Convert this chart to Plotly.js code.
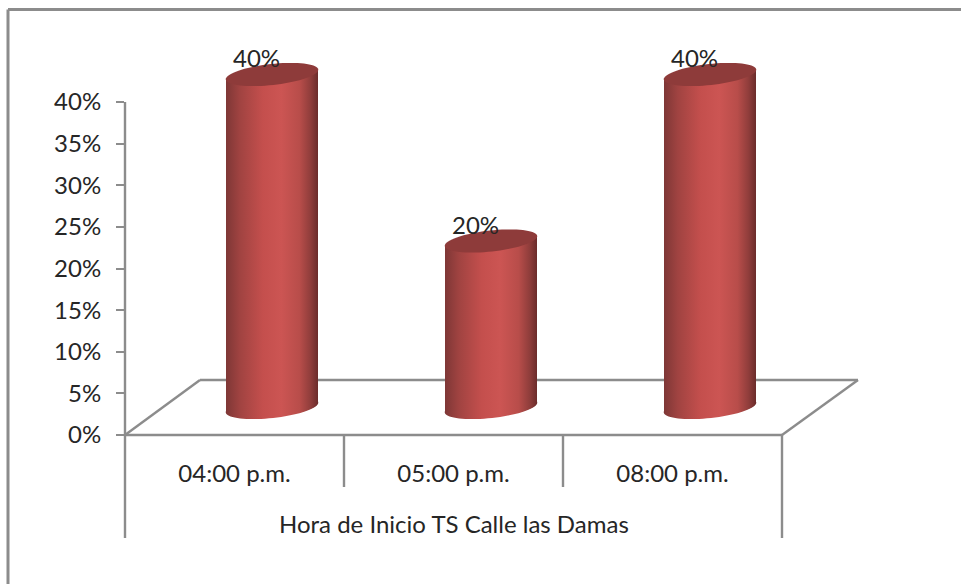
<!DOCTYPE html>
<html><head><meta charset="utf-8">
<script src="https://cdn.plot.ly/plotly-3.0.1.min.js"></script>
<style>html,body{margin:0;padding:0;background:#fff}#c{width:961px;height:584px}</style>
</head><body><div id="c"></div>
<script>
const categories = ["04:00 p.m.", "05:00 p.m.", "08:00 p.m."];
const shares = [0.40, 0.20, 0.40];
const yTicks = [0, 0.05, 0.10, 0.15, 0.20, 0.25, 0.30, 0.35, 0.40];
const axisTitle = "Hora de Inicio TS Calle las Damas";

const W = 961, H = 584;
const m = {l:125, r:90, t:40, b:149};
const pw = W-m.l-m.r, ph = H-m.t-m.b;
const pxPerCat = 219, pxPerVal = 832.5;
const shiftX = 37.5, shiftY = 27.5;
const grey = '#8c8c8c', FONT = 'Lato, "Open Sans", sans-serif', TXT = '#262626', FS = 24;
const px = (x)=> (x-m.l)/pw, py = (y)=> 1-(y-m.t)/ph;
const line = (x0,y0,x1,y1,w)=>({type:'line',xref:'paper',yref:'paper',layer:'below',
  x0:px(x0),y0:py(y0),x1:px(x1),y1:py(y1),line:{color:grey,width:w||2.4}});

const xr = [-0.5, -0.5+pw/pxPerCat], yr = [0, ph/pxPerVal];
const x2r = [xr[0]-shiftX/pxPerCat, xr[1]-shiftX/pxPerCat];
const y2r = [yr[0]-shiftY/pxPerVal, yr[1]-shiftY/pxPerVal];

function ellipse(i, v){
  const a=46.5, b=10.5, t=-6.2*Math.PI/180; let d='';
  for(let k=0;k<=72;k++){
    const u=k/72*2*Math.PI, dx=a*Math.cos(u)*Math.cos(t)-b*Math.sin(u)*Math.sin(t),
      dy=a*Math.cos(u)*Math.sin(t)+b*Math.sin(u)*Math.cos(t);
    d+=(k?'L':'M')+(i+dx/pxPerCat).toFixed(5)+','+(v-dy/pxPerVal).toFixed(5);
  }
  return d+'Z';
}
const SENT='rgb(1, 2, 3)';
const shapes=[
  line(125,102,125,538), line(782,435,782,538), line(344,435,344,487), line(563,435,563,487),
  line(125,435,782,435), line(125,435,200,380), line(200,380,858,380), line(858,380,782,435),
  line(8,9.5,961,9.5,3), line(8,9.5,8,584,3)
];
categories.forEach((c,i)=>{
  shapes.push({type:'path',xref:'x2',yref:'y2',layer:'below',path:ellipse(i,0),fillcolor:SENT,line:{width:0}});
  shapes.push({type:'path',xref:'x2',yref:'y2',layer:'above',path:ellipse(i,shares[i]),fillcolor:'#8e3b3a',line:{width:0}});
});
const annotations=categories.map((c,i)=>({xref:'x2',yref:'y2',x:i,y:shares[i],text:Math.round(shares[i]*100)+'%',
  showarrow:false,xshift:-16,yshift:17,yanchor:'middle',xanchor:'center',font:{family:FONT,size:FS,color:TXT}}));
annotations.push({xref:'paper',yref:'paper',x:px(453.5),y:py(523),text:axisTitle,showarrow:false,xanchor:'center',yanchor:'middle',
  font:{family:FONT,size:FS,color:TXT}});

const data=[
 {type:'bar',x:categories.map((c,i)=>i),y:shares,xaxis:'x2',yaxis:'y2',width:92/pxPerCat,
  marker:{color:'#c0504d',line:{width:0}},cliponaxis:false,hoverinfo:'skip'},
 {type:'scatter',mode:'markers',x:categories,y:shares,xaxis:'x',yaxis:'y',marker:{opacity:0,size:1},hoverinfo:'skip'}
];
const layout={width:W,height:H,margin:m,paper_bgcolor:'#fff',plot_bgcolor:'rgba(0,0,0,0)',showlegend:false,
 xaxis:{type:'category',domain:[0,1],range:xr,categoryorder:'array',categoryarray:categories,showgrid:false,zeroline:false,showline:false,ticks:'',
   tickfont:{family:FONT,size:FS,color:TXT},ticklabelstandoff:22,automargin:false},
 yaxis:{domain:[0,1],range:yr,tickmode:'array',tickvals:yTicks,tickformat:'.0%',showgrid:false,zeroline:false,showline:false,
   ticks:'outside',ticklen:8,tickwidth:2,tickcolor:grey,ticklabelstandoff:10,tickfont:{family:FONT,size:FS,color:TXT},automargin:false},
 xaxis2:{overlaying:'x',range:x2r,visible:false,fixedrange:true},
 yaxis2:{overlaying:'y',range:y2r,visible:false,fixedrange:true},
 shapes:shapes,annotations:annotations};

Plotly.newPlot('c',data,layout,{displayModeBar:false,staticPlot:true}).then(gd=>{
  const svg=gd.querySelector('svg.main-svg'); const ns='http://www.w3.org/2000/svg';
  let defs=svg.querySelector('defs');
  const g=document.createElementNS(ns,'linearGradient'); g.setAttribute('id','cyl');
  g.setAttribute('x1','0');g.setAttribute('x2','1');g.setAttribute('y1','0');g.setAttribute('y2','0');
  [[0,'#7e3736'],[0.15,'#a04341'],[0.4,'#c44f4d'],[0.6,'#cc5553'],[0.8,'#b84d4a'],[0.92,'#8f3d3b'],[1,'#6b2c2b']].forEach(s=>{
    const e=document.createElementNS(ns,'stop');e.setAttribute('offset',s[0]);e.setAttribute('stop-color',s[1]);g.appendChild(e);});
  defs.appendChild(g);
  const k=Math.tan(-6.2*Math.PI/180);
  gd.querySelectorAll('.bars .point path').forEach(p=>{
    p.style.fill='url(#cyl)';
    const b=p.getBBox(), cx=b.x+b.width/2;
    p.setAttribute('transform','matrix(1 '+k+' 0 1 0 '+(-k*cx)+')');
  });
  gd.querySelectorAll('.shapelayer path').forEach(p=>{ if(p.style.fill===SENT){p.style.fill='url(#cyl)';} });
});
</script></body></html>
